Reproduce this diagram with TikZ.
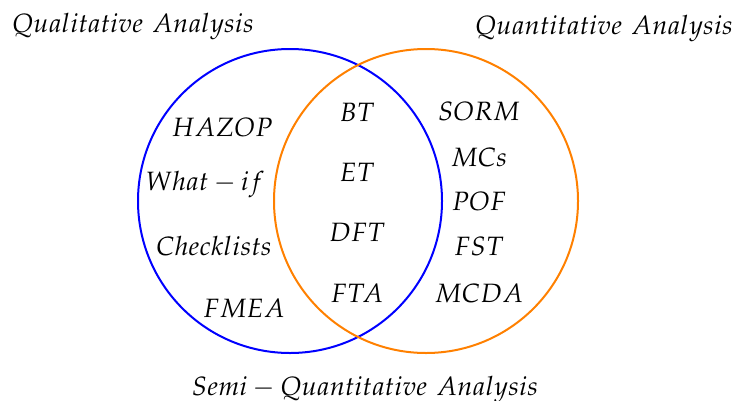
\documentclass[tikz,border=0pt]{standalone}
\usepackage{mathpazo}
\begin{document}
\begin{tikzpicture}[x=0.4pt, y=-0.4pt, every node/.style={font=\fontsize{10.6pt}{13pt}\selectfont}]
\useasboundingbox (0,0) rectangle (732,400);

\draw[blue, line width=0.8pt] (290,201) circle (152);
\draw[orange, line width=0.8pt] (426,201) circle (152);

\node (QL) at (133,27) {$Qualitative\ Analysis$};
\node (QN) at (604,29) {$Quantitative\ Analysis$};
\node (SQ) at (365,390) {$Semi-Quantitative\ Analysis$};

\node (HZ) at (222,127) {$HAZOP$};
\node (WI) at (205,185) {$What-if$};
\node (CL) at (214,246) {$Checklists$};
\node (FM) at (244,308) {$FMEA$};

\node (BT) at (357,112) {$BT$};
\node[below of=BT, node distance=24pt] (ET) {$ET$};
\node[below of=ET, node distance=24pt] (DFT) {$DFT$};
\node[below of=DFT, node distance=24.4pt] (FTA) {$FTA$};

\node (SORM) at (479,111) {$SORM$};
\node[below of=SORM, node distance=18.4pt] (MC) {$MCs$};
\node[below of=MC, node distance=17.6pt] (POF) {$POF$};
\node[below of=POF, node distance=18pt] (FST) {$FST$};
\node[below of=FST, node distance=18.8pt] (MCDA) {$MCDA$};
\end{tikzpicture}
\end{document}
